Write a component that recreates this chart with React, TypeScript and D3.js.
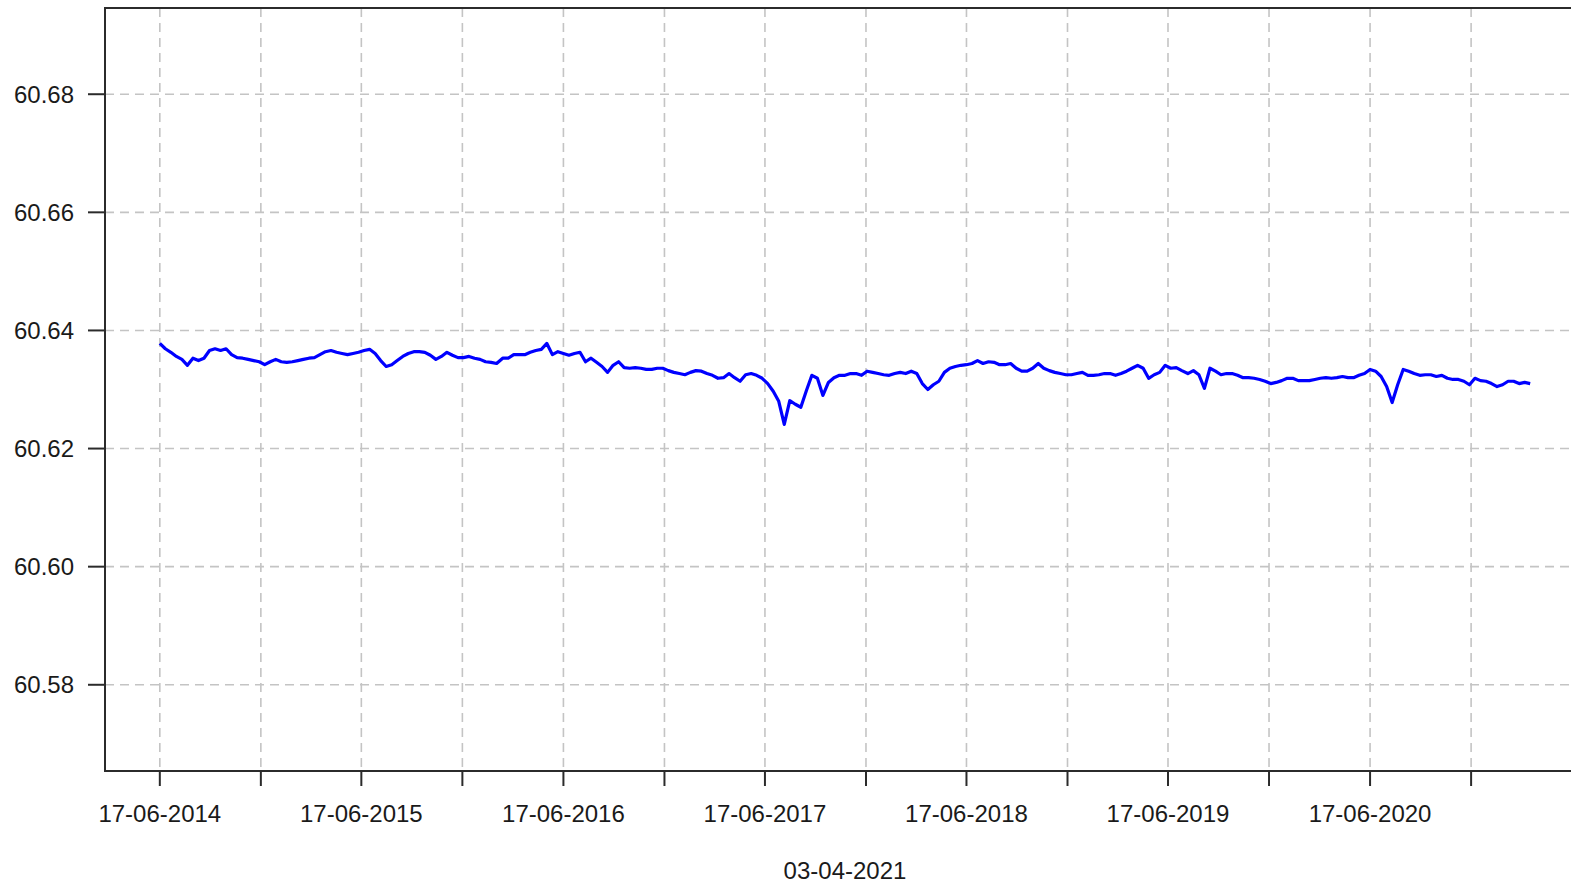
import React from "react";
import * as d3 from "d3";

const startDate = new Date(2014, 5, 17);
const endDate = new Date(2021, 3, 3);

// Series values sampled roughly every 10 days from 17-06-2014 to 03-04-2021
const values: number[] = [
  60.6378, 60.6369, 60.6363, 60.6356, 60.6351, 60.6341, 60.6353, 60.6349, 60.6353, 60.6366,
  60.6369, 60.6366, 60.6369, 60.6359, 60.6354, 60.6353, 60.6351, 60.6349, 60.6347, 60.6342,
  60.6347, 60.6351, 60.6347, 60.6346, 60.6347, 60.6349, 60.6351, 60.6353, 60.6354, 60.6359,
  60.6364, 60.6366, 60.6363, 60.6361, 60.6359, 60.6361, 60.6363, 60.6366, 60.6368, 60.6361,
  60.6349, 60.6339, 60.6342, 60.6349, 60.6356, 60.6361, 60.6364, 60.6364, 60.6363, 60.6358,
  60.6351, 60.6356, 60.6363, 60.6358, 60.6354, 60.6354, 60.6356, 60.6353, 60.6351, 60.6347,
  60.6346, 60.6344, 60.6353, 60.6353, 60.6359, 60.6359, 60.6359, 60.6363, 60.6366, 60.6368,
  60.6378, 60.6359, 60.6364, 60.6361, 60.6358, 60.6361, 60.6363, 60.6347, 60.6353, 60.6346,
  60.6339, 60.6329, 60.6341, 60.6347, 60.6337, 60.6336, 60.6337, 60.6336, 60.6334, 60.6334,
  60.6336, 60.6336, 60.6332, 60.6329, 60.6327, 60.6325, 60.6329, 60.6332, 60.6331, 60.6327,
  60.6324, 60.6319, 60.632, 60.6327, 60.632, 60.6314, 60.6325, 60.6327, 60.6324, 60.6319,
  60.631, 60.6297, 60.628, 60.6241, 60.6281, 60.6275, 60.627, 60.6298, 60.6324, 60.6319,
  60.629, 60.6312, 60.632, 60.6324, 60.6324, 60.6327, 60.6327, 60.6324, 60.6331, 60.6329,
  60.6327, 60.6325, 60.6324, 60.6327, 60.6329, 60.6327, 60.6331, 60.6327, 60.631, 60.63,
  60.6308, 60.6314, 60.6329, 60.6336, 60.6339, 60.6341, 60.6342, 60.6344, 60.6349, 60.6344,
  60.6347, 60.6346, 60.6342, 60.6342, 60.6344, 60.6336, 60.6331, 60.6331, 60.6336, 60.6344,
  60.6336, 60.6332, 60.6329, 60.6327, 60.6325, 60.6325, 60.6327, 60.6329, 60.6324, 60.6324,
  60.6325, 60.6327, 60.6327, 60.6324, 60.6327, 60.6331, 60.6336, 60.6341, 60.6336, 60.6319,
  60.6325, 60.6329, 60.6341, 60.6336, 60.6337, 60.6332, 60.6327, 60.6332, 60.6325, 60.6302,
  60.6336, 60.6331, 60.6325, 60.6327, 60.6327, 60.6324, 60.632, 60.632, 60.6319, 60.6317,
  60.6314, 60.631, 60.6312, 60.6315, 60.6319, 60.6319, 60.6315, 60.6315, 60.6315, 60.6317,
  60.6319, 60.632, 60.6319, 60.632, 60.6322, 60.632, 60.632, 60.6324, 60.6327, 60.6334,
  60.6331, 60.6322, 60.6305, 60.6278, 60.6308, 60.6334, 60.6331, 60.6327, 60.6324, 60.6325,
  60.6325, 60.6322, 60.6324, 60.6319, 60.6317, 60.6317, 60.6314, 60.6308, 60.6319, 60.6315,
  60.6314, 60.631, 60.6305, 60.6308, 60.6314, 60.6314, 60.631, 60.6312, 60.631,
];

const yTicks = [60.58, 60.6, 60.62, 60.64, 60.66, 60.68];
const yLimits = [60.5654, 60.6946];
const xTickDates = [
  "2014-06-17", "2014-12-17", "2015-06-17", "2015-12-17", "2016-06-17", "2016-12-17",
  "2017-06-17", "2017-12-17", "2018-06-17", "2018-12-17", "2019-06-17", "2019-12-17",
  "2020-06-17", "2020-12-17",
];
const xLabelDates = ["2014-06-17", "2015-06-17", "2016-06-17", "2017-06-17", "2018-06-17", "2019-06-17", "2020-06-17"];
const xTitle = "03-04-2021";

const W = 1571;
const H = 886;
const plotLeft = 105;
const plotRight = 1585;
const plotTop = 8;
const plotBottom = 771;

const parse = d3.timeParse("%Y-%m-%d");
const fmt = d3.timeFormat("%d-%m-%Y");

export default function App() {
  const totalDays = d3.timeDay.count(startDate, endDate);
  const n = values.length;
  const data = values.map((v, i) => ({
    date: d3.timeDay.offset(startDate, Math.round((i * totalDays) / (n - 1))),
    value: v,
  }));
  const span = endDate.getTime() - startDate.getTime();
  const x = d3
    .scaleTime()
    .domain([new Date(startDate.getTime() - span * 0.04), new Date(endDate.getTime() + span * 0.04)])
    .range([plotLeft, plotRight]);
  const y = d3.scaleLinear().domain(yLimits).range([plotBottom, plotTop]);
  const line = d3
    .line<{ date: Date; value: number }>()
    .x((d) => x(d.date))
    .y((d) => y(d.value));

  const font = "'Liberation Sans', Arial, Helvetica, sans-serif";
  const gridColor = "#c4c4c4";
  const axisColor = "#2b2b2b";
  const textColor = "#1a1a1a";

  return (
    <svg
      width={W}
      height={H}
      style={{ position: "absolute", left: 0, top: 0, background: "#ffffff" }}
    >
      <rect x={0} y={0} width={W} height={H} fill="#ffffff" />
      {/* grid */}
      {xTickDates.map((s) => {
        const xx = x(parse(s)!);
        return (
          <line key={"gx" + s} x1={xx} x2={xx} y1={plotTop} y2={plotBottom} stroke={gridColor} strokeWidth={1.6} strokeDasharray="9,6" />
        );
      })}
      {yTicks.map((t) => (
        <line key={"gy" + t} x1={plotLeft} x2={plotRight} y1={y(t)} y2={y(t)} stroke={gridColor} strokeWidth={1.6} strokeDasharray="9,6" />
      ))}
      {/* series */}
      <path d={line(data) || ""} fill="none" stroke="#0000ff" strokeWidth={3.2} strokeLinejoin="round" />
      {/* box */}
      <rect x={plotLeft} y={plotTop} width={plotRight - plotLeft} height={plotBottom - plotTop} fill="none" stroke={axisColor} strokeWidth={2} />
      {/* y axis ticks and labels */}
      {yTicks.map((t) => (
        <g key={"yt" + t}>
          <line x1={plotLeft - 17} x2={plotLeft} y1={y(t)} y2={y(t)} stroke={axisColor} strokeWidth={2} />
          <text x={74} y={y(t) + 8.5} textAnchor="end" fontFamily={font} fontSize={24} fill={textColor}>
            {d3.format(".2f")(t)}
          </text>
        </g>
      ))}
      {/* x axis ticks */}
      {xTickDates.map((s) => {
        const xx = x(parse(s)!);
        return <line key={"xt" + s} x1={xx} x2={xx} y1={plotBottom} y2={plotBottom + 15} stroke={axisColor} strokeWidth={2} />;
      })}
      {xLabelDates.map((s) => {
        const d = parse(s)!;
        return (
          <text key={"xl" + s} x={x(d)} y={822} textAnchor="middle" fontFamily={font} fontSize={24} fill={textColor}>
            {fmt(d)}
          </text>
        );
      })}
      <text x={(plotLeft + plotRight) / 2} y={879} textAnchor="middle" fontFamily={font} fontSize={24} fill={textColor}>
        {xTitle}
      </text>
    </svg>
  );
}
